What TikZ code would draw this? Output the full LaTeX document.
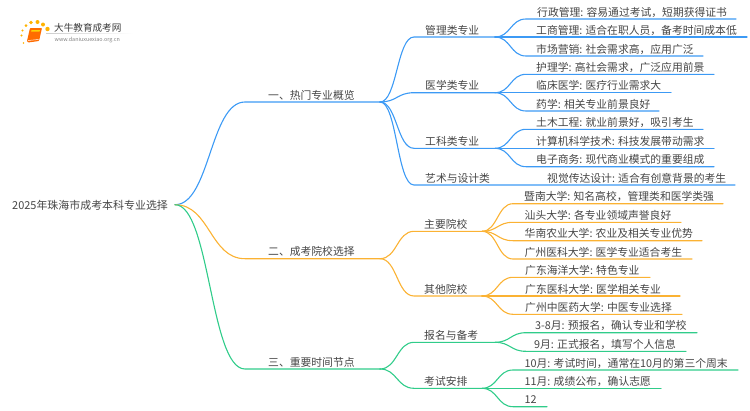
\documentclass[tikz,border=0pt]{standalone}
\usepackage{fontspec}
\setmainfont{Noto Sans CJK SC}
\usetikzlibrary{calc}
\definecolor{cblue}{HTML}{3C9AF5}
\definecolor{corange}{HTML}{FBB233}
\definecolor{cgreen}{HTML}{30CC8A}
\definecolor{ctext}{HTML}{454545}
\tikzset{
  lab/.style={anchor=base west,inner sep=0pt,text=ctext,font=\fontsize{10.8}{12}\selectfont},
  conn/.style={line width=1.1pt,line cap=round},
  dot/.style={circle,inner sep=0pt,fill=#1},
}
% \branch{name}{parent}{x flat}{x end}{y line}{x text}{colour}{text}
\newcommand{\branch}[8]{%
  \node[lab] (#1) at (#6,#5-3) {#8};
  \coordinate (#1f) at (#3,#5);
  \coordinate (#1e) at (#4,#5);
  \draw[conn,#7] let \p1=(#2), \p2=(#1f) in (#2) .. controls ({0.5*\x1+0.5*\x2},\y1) and ({0.5*\x1+0.5*\x2},\y2) .. (#1f) -- (#1e);
}
\begin{document}
\begin{tikzpicture}[x=1pt,y=-1pt]
\useasboundingbox (0,0) rectangle (750,410);
% logo
\foreach \i/\px/\py/\r in {d1/23.5/43/0.9,d2/21.5/35.5/1.1,d3/22.5/30.5/1.2,d4/26/25.5/1.5,d5/31/22.5/1.8,d6/37.5/22/2,d7/43/24.5/2,d8/47.5/29/2.2}{
  \node[dot=orange!60!yellow,minimum size=2*\r pt] (\i) at (\px,\py) {};
}
\fill[orange!85!red,rounded corners=0.8pt] (30,28) -- (42,28) -- (39,41) -- (28,42.5) -- (27,41) -- cycle;
\fill[yellow!70!orange] (31.5,30) -- (40,30) -- (39.6,31.5) -- (31.2,31.5) -- cycle;
\draw[white,line width=0.5pt] (28,40.5) -- (38.5,39.5);
\node[inner sep=0pt,anchor=base west,text=ctext!85!black,font=\fontsize{9.6}{10}\selectfont] (logot) at (54,31) {大牛教育成考网};
\node[inner sep=0pt,anchor=base west,text=gray,font=\fontsize{5.4}{6}\selectfont] (logou) at (54.5,41) {www.daniuxuexiao.org.cn};
\shade[left color=gray!40,right color=white] (46,33) rectangle (133,33.7);
% root
\node[lab,font=\fontsize{10.95}{12}\selectfont] (root) at (12,209) {2025年珠海市成考本科专业选择};
\coordinate (J) at (175,204.7);
\branch{a}{J}{245}{380}{102}{268}{cblue}{一、热门专业概览}
\branch{b}{J}{245}{380}{258.7}{268}{corange}{二、成考院校选择}
\branch{c}{J}{245}{380}{369}{268}{cgreen}{三、重要时间节点}
\coordinate (A) at (380,102);
\coordinate (B) at (380,258.7);
\coordinate (C) at (380,369);
\branch{a1}{A}{414}{495}{37}{425}{cblue}{管理类专业}
\branch{a2}{A}{414}{495}{92.7}{425}{cblue}{医学类专业}
\branch{a3}{A}{414}{495}{148.3}{425}{cblue}{工科类专业}
\branch{a4}{A}{414}{735}{185}{425}{cblue}{艺术与设计类}
\branch{b1}{B}{414}{482}{231.3}{424}{corange}{主要院校}
\branch{b2}{B}{414}{482}{296}{424}{corange}{其他院校}
\branch{c1}{C}{414}{495}{342.3}{424}{cgreen}{报名与备考}
\branch{c2}{C}{414}{482}{388.3}{424}{cgreen}{考试安排}
\coordinate (A1) at (495,37);
\coordinate (A2) at (495,92.7);
\coordinate (A3) at (495,148.3);
\coordinate (B1) at (482,231.3);
\coordinate (B2) at (482,296);
\coordinate (C1) at (495,342.3);
\coordinate (C2) at (482,388.3);
\branch{l1}{A1}{526}{736}{19}{537}{cblue}{行政管理: 容易通过考试，短期获得证书}
\branch{l2}{A1}{526}{747}{37}{536}{cblue}{工商管理: 适合在职人员，备考时间成本低}
\branch{l3}{A1}{526}{703}{56}{536}{cblue}{市场营销: 社会需求高，应用广泛}
\branch{l4}{A2}{526}{714}{74.3}{536}{cblue}{护理学: 高社会需求，广泛应用前景}
\branch{l5}{A2}{526}{671}{92.7}{536}{cblue}{临床医学: 医疗行业需求大}
\branch{l6}{A2}{526}{659}{111}{536}{cblue}{药学: 相关专业前景良好}
\branch{l7}{A3}{526}{703}{129.3}{536}{cblue}{土木工程: 就业前景好，吸引考生}
\branch{l8}{A3}{526}{714}{148.3}{536}{cblue}{计算机科学技术: 科技发展带动需求}
\branch{l9}{A3}{526}{714}{166.7}{536}{cblue}{电子商务: 现代商业模式的重要组成}
\node[lab] (l10) at (547,182) {视觉传达设计: 适合有创意背景的考生};
\branch{m1}{B1}{513}{723}{203.7}{524}{corange}{暨南大学: 知名高校，管理类和医学类强}
\branch{m2}{B1}{513}{681}{222.3}{524.5}{corange}{汕头大学: 各专业领域声誉良好}
\branch{m3}{B1}{513}{702}{240.7}{524.5}{corange}{华南农业大学: 农业及相关专业优势}
\branch{m4}{B1}{513}{692}{259}{524.5}{corange}{广州医科大学: 医学专业适合考生}
\branch{m5}{B2}{513}{650}{277.3}{525}{corange}{广东海洋大学: 特色专业}
\branch{m6}{B2}{513}{680}{296}{525}{corange}{广东医科大学: 医学相关专业}
\branch{m7}{B2}{513}{682}{314.3}{525}{corange}{广州中医药大学: 中医专业选择}
\branch{n1}{C1}{526}{697}{332.7}{535}{cgreen}{3-8月: 预报名，确认专业和学校}
\branch{n2}{C1}{526}{686}{351.3}{534}{cgreen}{9月: 正式报名，填写个人信息}
\branch{n3}{C2}{513}{738}{370}{524.5}{cgreen}{10月: 考试时间，通常在10月的第三个周末}
\branch{n4}{C2}{513}{661}{388.3}{524.5}{cgreen}{11月: 成绩公布，确认志愿}
\branch{n5}{C2}{513}{547}{406.7}{524.5}{cgreen}{12}
\end{tikzpicture}
\end{document}
